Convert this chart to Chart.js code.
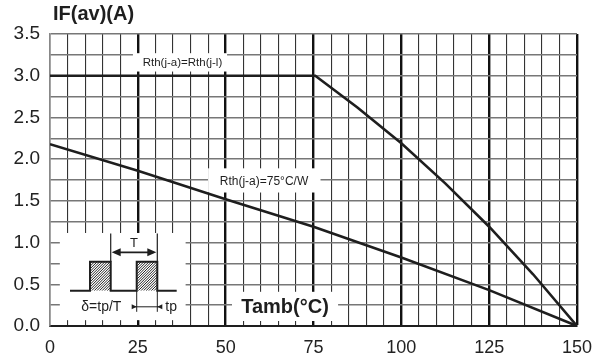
<!DOCTYPE html>
<html>
<head>
<meta charset="utf-8">
<script src="https://cdn.jsdelivr.net/npm/chart.js@4/dist/chart.umd.min.js"></script>
<style>
html,body{margin:0;padding:0;background:#fff;}
#wrap{width:604px;height:357px;position:relative;}
</style>
</head>
<body>
<div id="wrap"><canvas id="c" width="604" height="357"></canvas></div>
<script>
// ---- data ----
const tempsRthL = [0, 75.5, 87.5, 100, 112.5, 125, 137.5, 150];
const currentRthL = [3.0, 3.0, 2.62, 2.19, 1.71, 1.19, 0.62, 0];
const tempsRth75 = [0, 25, 50, 75, 100, 125, 150];
const currentRth75 = [2.18, 1.86, 1.52, 1.19, 0.82, 0.43, 0];
const xTickLabels = [0, 25, 50, 75, 100, 125, 150];
const yTickLabels = [0.0, 0.5, 1.0, 1.5, 2.0, 2.5, 3.0, 3.5];
const curveLabels = ['Rth(j-a)=Rth(j-l)', 'Rth(j-a)=75°C/W'];
const yTitle = 'IF(av)(A)';
const xTitle = 'Tamb(°C)';

const FONT = '"Liberation Sans", Arial, sans-serif';
const INK = '#1e1e1e';

function toPts(xs, ys){ return xs.map((x,i)=>({x:x, y:ys[i]})); }

const annot = {
  id: 'annot',
  beforeDatasetsDraw(chart){
    const ctx = chart.ctx, xs = chart.scales.x, ys = chart.scales.y;
    const X = v => xs.getPixelForValue(v), Y = v => ys.getPixelForValue(v);
    ctx.save();
    ctx.fillStyle = '#fff';
    const rect = (x0,x1,y0,y1) => ctx.fillRect(X(x0), Y(y1), X(x1)-X(x0), Y(y0)-Y(y1));
    rect(2.8, 38.6, 0.07, 1.115);    // inset
    rect(23.6, 50.4, 3.05, 3.27);    // label 1
    rect(45.0, 77.0, 1.60, 1.89);    // label 2
    rect(51.8, 82.0, 0.06, 0.41);    // x title
    ctx.restore();
  },
  afterDatasetsDraw(chart){
    const ctx = chart.ctx, xs = chart.scales.x, ys = chart.scales.y, ca = chart.chartArea;
    const X = v => xs.getPixelForValue(v), Y = v => ys.getPixelForValue(v);
    ctx.save();
    ctx.fillStyle = INK;
    ctx.textBaseline = 'middle';
    // y title
    ctx.textAlign = 'left';
    ctx.font = 'bold 20px ' + FONT;
    ctx.fillText(yTitle, ca.left + 3, ca.top - 20);
    // x title
    ctx.textAlign = 'center';
    ctx.fillText(xTitle, X(66.9), Y(0.22));
    // curve labels
    ctx.font = '11.5px ' + FONT;
    ctx.fillText(curveLabels[0], X(37.7), Y(3.16));
    ctx.font = '12px ' + FONT;
    ctx.fillText(curveLabels[1], X(60.9), Y(1.73));

    // ---- pulse diagram ----
    const base = Y(0.423), top = Y(0.771);
    const xa = X(5.69), p1a = X(11.39), p1b = X(17.28), p2a = X(24.68), p2b = X(30.54), xb = X(36.06);
    // hatching
    ctx.lineWidth = 1; ctx.strokeStyle = '#222';
    [[p1a,p1b],[p2a,p2b]].forEach(([a,b])=>{
      ctx.save();
      ctx.beginPath(); ctx.rect(a, top, b-a, base-top); ctx.clip();
      ctx.beginPath();
      for (let k = -40; k < 60; k += 2.6){
        ctx.moveTo(a + k, base); ctx.lineTo(a + k + (base-top), top);
      }
      ctx.stroke();
      ctx.restore();
    });
    ctx.strokeStyle = INK; ctx.lineWidth = 2;
    ctx.beginPath();
    ctx.moveTo(xa, base); ctx.lineTo(p1a, base); ctx.lineTo(p1a, top); ctx.lineTo(p1b, top); ctx.lineTo(p1b, base);
    ctx.lineTo(p2a, base); ctx.lineTo(p2a, top); ctx.lineTo(p2b, top); ctx.lineTo(p2b, base); ctx.lineTo(xb, base);
    ctx.stroke();
    // T markers
    ctx.lineWidth = 1.2;
    const tTop = Y(1.11), tArrow = Y(0.883);
    ctx.beginPath();
    ctx.moveTo(p1b, tTop); ctx.lineTo(p1b, top);
    ctx.moveTo(p2b, tTop); ctx.lineTo(p2b, top);
    ctx.stroke();
    ctx.lineWidth = 1.8;
    ctx.beginPath(); ctx.moveTo(p1b + 4, tArrow); ctx.lineTo(p2b - 4, tArrow); ctx.stroke();
    const tri = (tipX, y, dir, len, half) => {
      ctx.beginPath(); ctx.moveTo(tipX, y); ctx.lineTo(tipX - dir*len, y - half); ctx.lineTo(tipX - dir*len, y + half); ctx.closePath(); ctx.fill();
    };
    tri(p1b + 1, tArrow, -1, 9, 4);
    tri(p2b - 1, tArrow, 1, 9, 4);
    ctx.font = '13px ' + FONT;
    ctx.textAlign = 'center';
    ctx.fillText('T', (p1b + p2b)/2, Y(0.995));
    // tp markers
    const tpBot = Y(0.17), tpArrow = Y(0.23);
    ctx.lineWidth = 1;
    ctx.beginPath();
    ctx.moveTo(p2a, base); ctx.lineTo(p2a, tpBot);
    ctx.moveTo(p2b, base); ctx.lineTo(p2b, tpBot);
    ctx.moveTo(p2a - 4, tpArrow); ctx.lineTo(p2b + 4, tpArrow);
    ctx.stroke();
    tri(p2a, tpArrow, 1, 5, 2.5);
    tri(p2b, tpArrow, -1, 5, 2.5);
    ctx.font = '14px ' + FONT;
    ctx.textAlign = 'left';
    ctx.fillText('tp', p2b + 8, tpArrow);
    ctx.fillText('δ=tp/T', X(8.9), tpArrow);
    ctx.restore();
  }
};

const isMajorX = v => Math.abs(v % 25) < 1e-6;
const isHalfY = v => Math.abs(Math.round(v*100) % 50) === 0;

new Chart(document.getElementById('c'), {
  type: 'scatter',
  data: {
    datasets: [
      { data: toPts(tempsRthL, currentRthL), showLine: true, borderColor: INK, borderWidth: 2.6, pointRadius: 0, fill: false },
      { data: toPts(tempsRth75, currentRth75), showLine: true, borderColor: INK, borderWidth: 2.6, pointRadius: 0, fill: false }
    ]
  },
  options: {
    responsive: false,
    animation: false,
    devicePixelRatio: 1,
    layout: { padding: { top: 34, right: 27, left: 0, bottom: 0 } },
    plugins: { legend: { display: false }, tooltip: { enabled: false } },
    scales: {
      x: {
        type: 'linear', min: 0, max: 150,
        afterFit: s => { s.height = 31; },
        border: { display: true, color: INK, width: 2 },
        grid: {
          drawTicks: false,
          color: c => c.tick.value === 0 ? '#888' : (isMajorX(c.tick.value) ? '#111' : '#333'),
          lineWidth: c => c.tick.value === 0 ? 1.5 : (isMajorX(c.tick.value) ? 2.4 : 1.1)
        },
        ticks: {
          stepSize: 5, autoSkip: false, maxRotation: 0, padding: 11,
          color: '#222', font: { family: FONT, size: 18 },
          callback: v => xTickLabels.includes(v) ? String(v) : ''
        }
      },
      y: {
        type: 'linear', min: 0, max: 3.5,
        afterFit: s => { s.width = 50; },
        border: { display: true, color: '#888', width: 1.5 },
        grid: {
          drawTicks: false,
          color: '#777',
          lineWidth: 1.5
        },
        ticks: {
          stepSize: 0.25, autoSkip: false, padding: 10,
          color: '#222', font: { family: FONT, size: 19 },
          callback: v => (isHalfY(v) && yTickLabels.some(t => Math.abs(t - v) < 1e-6)) ? v.toFixed(1) : ''
        }
      }
    }
  },
  plugins: [annot]
});
</script>
</body>
</html>
